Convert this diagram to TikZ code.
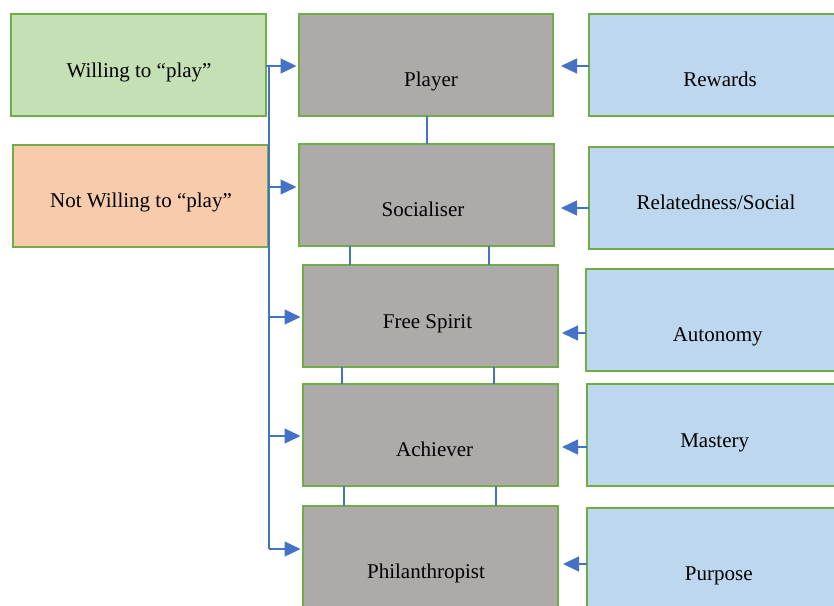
\documentclass[tikz,border=0pt]{standalone}
\usepackage{fontspec}
\setmainfont{Liberation Serif}
\usetikzlibrary{arrows.meta,fit}
\definecolor{bordergreen}{HTML}{70AD47}
\definecolor{fillgreen}{HTML}{C5E0B4}
\definecolor{fillorange}{HTML}{F8CBAD}
\definecolor{fillgrey}{HTML}{AEAAAA}
\definecolor{fillblue}{HTML}{BDD7EE}
\definecolor{connblue}{HTML}{4472C4}
\tikzset{
  box/.style={draw=bordergreen, line width=2.8pt, inner sep=0pt, outer sep=0pt, rectangle},
  gbox/.style={box, fill=fillgreen},
  obox/.style={box, fill=fillorange},
  greybox/.style={box, fill=fillgrey},
  bbox/.style={box, fill=fillblue},
  lbl/.style={anchor=base, inner sep=0pt, font=\fontsize{21}{25}\selectfont, text=black},
  conn/.style={draw=connblue, line width=1.3pt},
  arr/.style={conn, -{Triangle[length=16pt, width=15pt]}},
  larr/.style={arr, shorten >=2.5pt},
}
\begin{document}
\begin{tikzpicture}[x=1pt,y=-1pt]
\useasboundingbox[fill=white] (0,0) rectangle (834,605);
% left boxes
\node[gbox, fit={(11,14) (266,116)}] (will) {};
\node[obox, fit={(13,145) (268,247)}] (notw) {};
% middle boxes
\node[greybox, fit={(299,14) (553,116)}] (player) {};
\node[greybox, fit={(299,144) (554,246)}] (social) {};
\node[greybox, fit={(303,265) (558,367)}] (free) {};
\node[greybox, fit={(303,384) (558,486)}] (ach) {};
\node[greybox, fit={(303,506) (558,614)}] (phil) {};
% right boxes
\node[bbox, fit={(589,14) (842,116)}] (rew) {};
\node[bbox, fit={(589,147) (842,249)}] (rel) {};
\node[bbox, fit={(586,269) (842,371)}] (auto) {};
\node[bbox, fit={(587,384) (842,486)}] (mast) {};
\node[bbox, fit={(587,508) (842,614)}] (purp) {};
% labels
\node[lbl] (twill) at (139,77) {Willing to “play”};
\node[lbl] (tnotw) at (141,207) {Not Willing to “play”};
\node[lbl] (tplayer) at (431,86) {Player};
\node[lbl] (tsocial) at (423,216) {Socialiser};
\node[lbl] (tfree) at (427.5,328) {Free Spirit};
\node[lbl] (tach) at (434.7,456) {Achiever};
\node[lbl] (tphil) at (426,578) {Philanthropist};
\node[lbl] (trew) at (720,86.5) {Rewards};
\node[lbl] (trel) at (716,209) {Relatedness/Social};
\node[lbl] (tauto) at (717.7,341) {Autonomy};
\node[lbl] (tmast) at (714.7,447) {Mastery};
\node[lbl] (tpurp) at (718.8,580) {Purpose};
% left trunk and branches
\coordinate (ttop) at (269,66);
\coordinate (tbot) at (269,549);
\coordinate (b2) at (269,187);
\coordinate (b3) at (269,317);
\coordinate (b4) at (269,436);
\draw[conn] (ttop) -- (tbot);
\draw[larr] (will.east |- ttop) -- (ttop -| player.west);
\draw[larr] (b2) -- (b2 -| social.west);
\draw[larr] (b3) -- (b3 -| free.west);
\draw[larr] (b4) -- (b4 -| ach.west);
\draw[larr] (tbot) -- (tbot -| phil.west);
% right arrows
\coordinate (r1) at (561,66);
\coordinate (r2) at (561,208);
\coordinate (r3) at (562,333);
\coordinate (r4) at (562,447);
\coordinate (r5) at (563,564);
\draw[arr] (rew.west |- r1) -- (r1);
\draw[arr] (rel.west |- r2) -- (r2);
\draw[arr] (auto.west |- r3) -- (r3);
\draw[arr] (mast.west |- r4) -- (r4);
\draw[arr] (purp.west |- r5) -- (r5);
% vertical links between grey boxes
\coordinate (v1) at (427,0);
\coordinate (v2a) at (350,0);
\coordinate (v2b) at (489,0);
\coordinate (v3a) at (342,0);
\coordinate (v3b) at (494,0);
\coordinate (v4a) at (344,0);
\coordinate (v4b) at (496,0);
\draw[conn] (player.south -| v1) -- (social.north -| v1);
\draw[conn] (social.south -| v2a) -- (free.north -| v2a);
\draw[conn] (social.south -| v2b) -- (free.north -| v2b);
\draw[conn] (free.south -| v3a) -- (ach.north -| v3a);
\draw[conn] (free.south -| v3b) -- (ach.north -| v3b);
\draw[conn] (ach.south -| v4a) -- (phil.north -| v4a);
\draw[conn] (ach.south -| v4b) -- (phil.north -| v4b);
\end{tikzpicture}
\end{document}
